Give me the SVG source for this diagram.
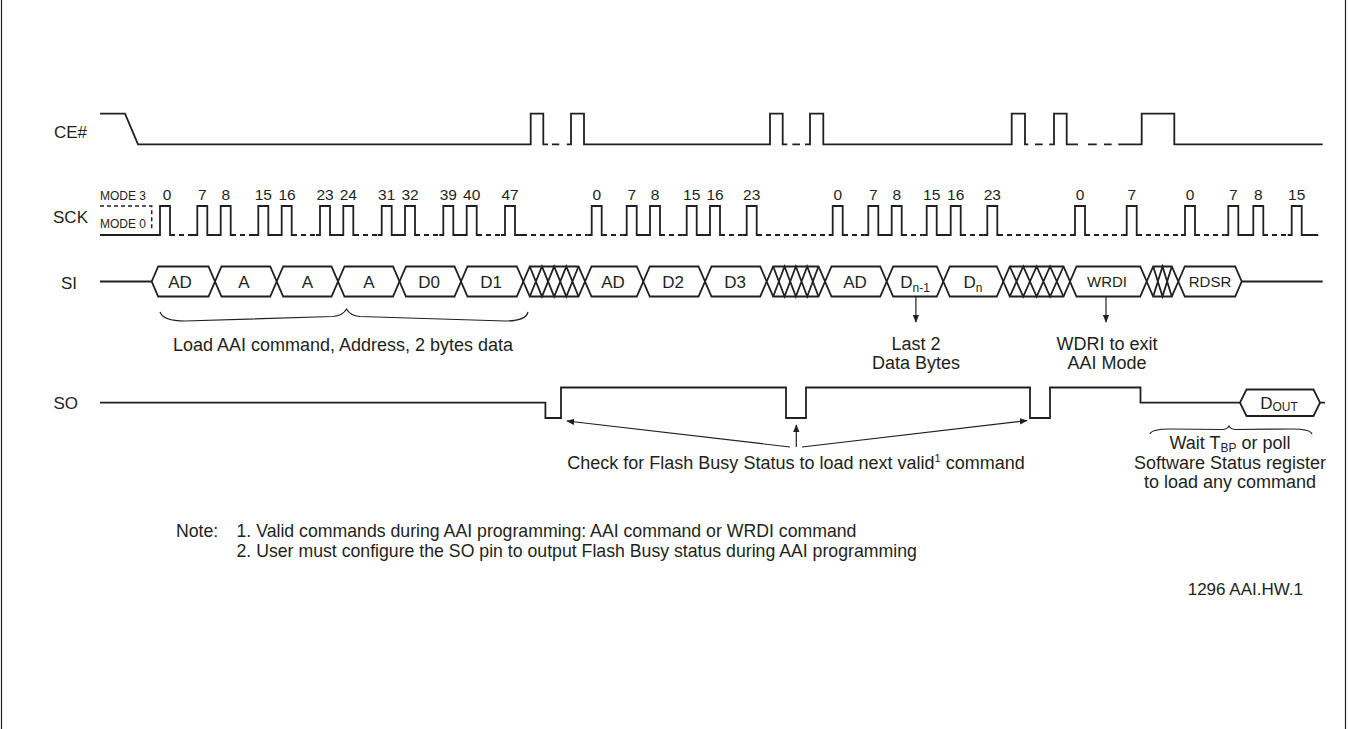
<svg xmlns="http://www.w3.org/2000/svg" width="1348" height="729" viewBox="0 0 1348 729">
<style>
.w{fill:none;stroke:#231f20;stroke-width:1.8;stroke-linejoin:miter}
.dl{fill:none;stroke:#231f20;stroke-width:1.8;stroke-dasharray:5 4;stroke-dashoffset:5}
.md{fill:none;stroke:#231f20;stroke-width:1.5;stroke-dasharray:4 3}
.hx{fill:#fff;stroke:#231f20;stroke-width:1.8}
.thin{fill:none;stroke:#231f20;stroke-width:1.2}
text{font-family:"Liberation Sans",Arial,Helvetica,sans-serif;fill:#231f20;font-size:17px}
.lbl{text-anchor:end}
.c{text-anchor:middle}
.a{font-size:18px}
.n{font-size:17.7px}
.num{font-size:15.5px;text-anchor:middle}
.mode{font-size:12px}
.sm{font-size:15px;text-anchor:middle}
</style>
<defs>
<marker id="ah" viewBox="0 0 10 10" refX="9" refY="5" markerWidth="8" markerHeight="8" markerUnits="userSpaceOnUse" orient="auto">
<path d="M0,1 L10,5 L0,9 Z" fill="#231f20"/>
</marker>
</defs>
<rect x="0" y="0" width="1348" height="729" fill="#fff"/>
<g id="frame">
<line x1="1.5" y1="0" x2="1.5" y2="729" class="thin"/>
<line x1="1345.5" y1="0" x2="1345.5" y2="729" class="thin"/>
</g>

<g id="ce">
<text x="87" y="138" class="lbl">CE#</text>
<path class="w" d="M100,113.7 H125 L138,144.3 H530.7 V113.7 H543.3 V144.3 H548 M552,144.3 H559.3 M566.7,144.3 H571 V113.7 H584 V144.3 H770 V113.7 H782.7 V144.3 H787.3 M792.3,144.3 H800 M805,144.3 H810 V113.7 H823.3 V144.3 H1011.7 V113.7 H1025 V144.3 H1028.3 M1035,144.3 H1042.7 M1049.3,144.3 H1054 V113.7 H1066.7 V144.3 H1078 M1088,144.3 H1096.7 M1104,144.3 H1111.7 M1118.3,144.3 H1141.7 V113.7 H1174.3 V144.3 H1322.7"/>
</g>

<g id="sck">
<text x="88" y="223" class="lbl">SCK</text>
<text x="100" y="199.5" class="mode">MODE 3</text>
<text x="100" y="227.5" class="mode">MODE 0</text>
<path class="md" d="M100,206 H151.7 V231"/>
<path class="w" d="M100,235 H160 V206 H170 V235 H175
M193,235 H197.3 V206 H207.3 V235 H220.7 V206 H230.7 V235 H236
M254,235 H258.3 V206 H268.3 V235 H281.7 V206 H291.7 V235 H297
M316,235 H320 V206 H330 V235 H343.3 V206 H353.3 V235 H359
M377.7,235 H381.7 V206 H391.7 V235 H405 V206 H415 V235 H420
M439.3,235 H443.3 V206 H453.3 V235 H466.7 V206 H476.7 V235 H482
M501,235 H505 V206 H515 V235 H527
M587.7,235 H591.7 V206 H601.7 V235 H607
M622.7,235 H626.7 V206 H636.7 V235 H650 V206 H660 V235 H665
M682.7,235 H686.7 V206 H696.7 V235 H710 V206 H720 V235 H725
M742.7,235 H746.7 V206 H756.7 V235 H762
M828.7,235 H832.7 V206 H842.7 V235 H848
M864.3,235 H868.3 V206 H878.3 V235 H891.7 V206 H901.7 V235 H907
M922.7,235 H926.7 V206 H936.7 V235 H950.7 V206 H960.7 V235 H966
M983.3,235 H987.3 V206 H997.3 V235 H1003
M1071,235 H1075 V206 H1085 V235 H1090
M1122.7,235 H1126.7 V206 H1136.7 V235 H1142
M1181,235 H1185 V206 H1195 V235 H1200
M1224.3,235 H1228.3 V206 H1238.3 V235 H1253.3 V206 H1263.3 V235 H1268
M1287.7,235 H1291.7 V206 H1301.7 V235 H1318.3"/>
<path class="dl" d="M175,235 H193 M236,235 H254 M297,235 H316 M359,235 H377.7 M420,235 H439.3 M482,235 H501 M527,235 H587.7 M607,235 H622.7 M665,235 H682.7 M725,235 H742.7 M762,235 H828.7 M848,235 H864.3 M907,235 H922.7 M966,235 H983.3 M1003,235 H1071 M1090,235 H1122.7 M1142,235 H1181 M1200,235 H1224.3 M1268,235 H1287.7"/>
<text class="num" x="167" y="200">0</text>
<text class="num" x="202.3" y="200">7</text>
<text class="num" x="225.7" y="200">8</text>
<text class="num" x="263.3" y="200">15</text>
<text class="num" x="287" y="200">16</text>
<text class="num" x="325" y="200">23</text>
<text class="num" x="348.3" y="200">24</text>
<text class="num" x="386.7" y="200">31</text>
<text class="num" x="410" y="200">32</text>
<text class="num" x="448.3" y="200">39</text>
<text class="num" x="471.7" y="200">40</text>
<text class="num" x="510" y="200">47</text>
<text class="num" x="596.7" y="200">0</text>
<text class="num" x="631.7" y="200">7</text>
<text class="num" x="655" y="200">8</text>
<text class="num" x="691.7" y="200">15</text>
<text class="num" x="715" y="200">16</text>
<text class="num" x="751.7" y="200">23</text>
<text class="num" x="837.7" y="200">0</text>
<text class="num" x="873.3" y="200">7</text>
<text class="num" x="896.7" y="200">8</text>
<text class="num" x="931.7" y="200">15</text>
<text class="num" x="955.7" y="200">16</text>
<text class="num" x="992.3" y="200">23</text>
<text class="num" x="1080" y="200">0</text>
<text class="num" x="1131.7" y="200">7</text>
<text class="num" x="1190" y="200">0</text>
<text class="num" x="1233.3" y="200">7</text>
<text class="num" x="1258.3" y="200">8</text>
<text class="num" x="1296.7" y="200">15</text>
</g>

<g id="si">
<text x="77" y="288.5" class="lbl">SI</text>
<path class="w" d="M100,281.5 H151.7 M1241.7,281.5 H1322.7"/>
<path class="hx" d="M151.7,281.5 L158.2,266.5 H208.5 L215,281.5 L208.5,296.5 H158.2 Z"/>
<path class="hx" d="M215,281.5 L221.5,266.5 H270.2 L276.7,281.5 L270.2,296.5 H221.5 Z"/>
<path class="hx" d="M276.7,281.5 L283.2,266.5 H331.5 L338,281.5 L331.5,296.5 H283.2 Z"/>
<path class="hx" d="M338,281.5 L344.5,266.5 H393 L399.5,281.5 L393,296.5 H344.5 Z"/>
<path class="hx" d="M399.5,281.5 L406,266.5 H454.5 L461,281.5 L454.5,296.5 H406 Z"/>
<path class="hx" d="M461,281.5 L467.5,266.5 H516.8 L523.3,281.5 L516.8,296.5 H467.5 Z"/>
<path class="hx" d="M585,281.5 L591.5,266.5 H636.8 L643.3,281.5 L636.8,296.5 H591.5 Z"/>
<path class="hx" d="M643.3,281.5 L649.8,266.5 H698.5 L705,281.5 L698.5,296.5 H649.8 Z"/>
<path class="hx" d="M705,281.5 L711.5,266.5 H760.2 L766.7,281.5 L760.2,296.5 H711.5 Z"/>
<path class="hx" d="M825,281.5 L831.5,266.5 H880.2 L886.7,281.5 L880.2,296.5 H831.5 Z"/>
<path class="hx" d="M886.7,281.5 L893.2,266.5 H936.8 L943.3,281.5 L936.8,296.5 H893.2 Z"/>
<path class="hx" d="M943.3,281.5 L949.8,266.5 H996.8 L1003.3,281.5 L996.8,296.5 H949.8 Z"/>
<path class="hx" d="M1070,281.5 L1076.5,266.5 H1140.2 L1146.7,281.5 L1140.2,296.5 H1076.5 Z"/>
<path class="hx" d="M1178.3,281.5 L1184.8,266.5 H1235.2 L1241.7,281.5 L1235.2,296.5 H1184.8 Z"/>
<path class="hx" d="M523.3,281.5 L529.8,266.5 H578.5 L585,281.5 L578.5,296.5 H529.8 Z"/>
<path class="w" d="M529.8,266.5 L541.98,296.5 L554.15,266.5 L566.33,296.5 L578.5,266.5 M529.8,296.5 L541.98,266.5 L554.15,296.5 L566.33,266.5 L578.5,296.5"/>
<path class="hx" d="M766.7,281.5 L773.2,266.5 H818.5 L825,281.5 L818.5,296.5 H773.2 Z"/>
<path class="w" d="M773.2,266.5 L784.53,296.5 L795.85,266.5 L807.18,296.5 L818.5,266.5 M773.2,296.5 L784.53,266.5 L795.85,296.5 L807.18,266.5 L818.5,296.5"/>
<path class="hx" d="M1003.3,281.5 L1009.8,266.5 H1063.5 L1070,281.5 L1063.5,296.5 H1009.8 Z"/>
<path class="w" d="M1009.8,266.5 L1023.23,296.5 L1036.65,266.5 L1050.08,296.5 L1063.5,266.5 M1009.8,296.5 L1023.23,266.5 L1036.65,296.5 L1050.08,266.5 L1063.5,296.5"/>
<path class="hx" d="M1146.7,281.5 L1153.2,266.5 H1171.8 L1178.3,281.5 L1171.8,296.5 H1153.2 Z"/>
<path class="w" d="M1153.2,266.5 L1162.5,296.5 L1171.8,266.5 M1153.2,296.5 L1162.5,266.5 L1171.8,296.5"/>
<text class="c" x="180" y="287.5">AD</text>
<text class="c" x="244" y="287.5">A</text>
<text class="c" x="307.3" y="287.5">A</text>
<text class="c" x="368.8" y="287.5">A</text>
<text class="c" x="429" y="287.5">D0</text>
<text class="c" x="491" y="287.5">D1</text>
<text class="c" x="613" y="287.5">AD</text>
<text class="c" x="673" y="287.5">D2</text>
<text class="c" x="735" y="287.5">D3</text>
<text class="c" x="855" y="287.5">AD</text>
<text class="c" x="915" y="287.5">D<tspan font-size="12" dy="4">n-1</tspan></text>
<text class="c" x="973" y="287.5">D<tspan font-size="12" dy="4">n</tspan></text>
<text class="sm" x="1107" y="287">WRDI</text>
<text class="sm" x="1210" y="287">RDSR</text>
</g>

<g id="so">
<text x="78" y="409" class="lbl">SO</text>
<path class="w" d="M100,402.7 H545.4 V418 H561 V387.5 H786 V418 H806 V387.5 H1030 V418 H1050 V387.5 H1140.5 V402.7 H1240 M1320,402.7 H1325"/>
<path class="hx" d="M1240,402.7 L1246.5,389.5 H1313.5 L1320,402.7 L1313.5,416 H1246.5 Z"/>
<text class="c" x="1279" y="409">D<tspan font-size="12" dy="2">OUT</tspan></text>
</g>

<g id="annotations">
<path class="thin" d="M160,312 Q163,321 185,321 L333,316.5 Q343,315.5 346.5,309 Q350,315.5 360,316.5 L505,321 Q526,321 528,312"/>
<text class="c a" x="343" y="351">Load AAI command, Address, 2 bytes data</text>
<text class="c a" x="916" y="350">Last 2</text>
<text class="c a" x="916" y="369">Data Bytes</text>
<text class="c a" x="1107" y="350">WDRI to exit</text>
<text class="c a" x="1107" y="369">AAI Mode</text>
<text class="c a" x="796" y="469">Check for Flash Busy Status to load next valid<tspan font-size="11" dy="-7">1</tspan><tspan dy="7"> command</tspan></text>
<path class="thin" d="M1150,434 Q1152,429 1170,429 L1222,429.5 Q1227,429.5 1229,426 Q1231,429.5 1236,429.5 L1292,429 Q1310,429 1312,434"/>
<text class="c a" x="1230" y="449">Wait T<tspan font-size="12" dy="3">BP</tspan><tspan dy="-3"> or poll</tspan></text>
<text class="c a" x="1230" y="469">Software Status register</text>
<text class="c a" x="1230" y="488">to load any command</text>
<text class="n" x="176" y="537">Note:</text>
<text class="n" x="236.5" y="537">1. Valid commands during AAI programming: AAI command or WRDI command</text>
<text class="n" x="236.5" y="557">2. User must configure the SO pin to output Flash Busy status during AAI programming</text>
<text x="1303" y="595" text-anchor="end" font-size="15">1296 AAI.HW.1</text>
</g>

<g id="connectors">
<line class="thin" x1="915.9" y1="297" x2="915.9" y2="322" marker-end="url(#ah)"/>
<line class="thin" x1="1106" y1="297" x2="1106" y2="322" marker-end="url(#ah)"/>
<line class="thin" x1="790" y1="447" x2="567" y2="421" marker-end="url(#ah)"/>
<line class="thin" x1="796.3" y1="447" x2="796.3" y2="425" marker-end="url(#ah)"/>
<line class="thin" x1="802" y1="447" x2="1027" y2="420.5" marker-end="url(#ah)"/>
</g>
</svg>
